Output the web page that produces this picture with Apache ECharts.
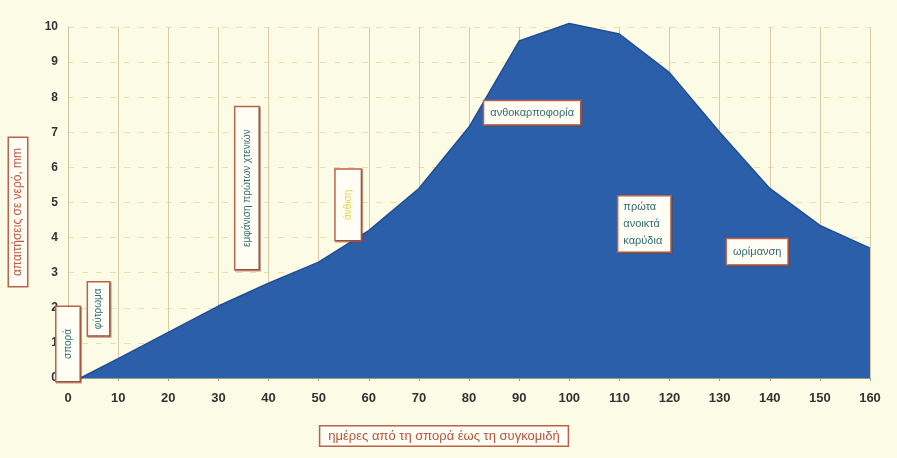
<!DOCTYPE html>
<html>
<head>
<meta charset="utf-8">
<script src="https://cdn.jsdelivr.net/npm/echarts@6/dist/echarts.min.js"></script>
<style>
  html, body { margin: 0; padding: 0; background: #fcfbe6; }
  #chart { width: 897px; height: 458px; }
</style>
</head>
<body>
<div id="chart"></div>
<script>
// Days after sowing and daily water need
const days = [2.5, 10, 20, 30, 40, 50, 60, 70, 80, 90, 100, 110, 120, 130, 140, 150, 160];
const waterNeed = [0, 0.55, 1.3, 2.05, 2.7, 3.3, 4.2, 5.4, 7.15, 9.6, 10.1, 9.8, 8.7, 7.0, 5.4, 4.35, 3.7];

// Growth stage notes: position in chart coordinates
const stageNames = ['σπορά', 'φύτρωμα', 'εμφάνιση πρώτων χτενιών', 'άνθιση',
  'ανθοκαρποφορία', 'πρώτα\nανοικτά\nκαρύδια', 'ωρίμανση'];
const stageX = [0, 6.1, 35.7, 55.9, 92.6, 109.8, 137.5];
const stageY = [0.97, 1.97, 5.41, 4.93, 7.56, 4.39, 3.6];
const stageVertical = [true, true, true, true, false, false, false];

const xTitle = 'ημέρες από τη σπορά έως τη συγκομιδή';
const yTitle = 'απαιτήσεις σε νερό, mm';

const boxBorder = '#b9624a';
const noteText = '#2f6d74';
const fontFam = '"Liberation Sans", Arial, sans-serif';
const tickFont = '"Liberation Sans Narrow", "Liberation Sans", Arial, sans-serif';

const chart = echarts.init(document.getElementById('chart'));

const paddings = [
  [3, 22, 3, 22],
  [2, 6, 2, 6],
  [3, 22, 3, 22],
  [4, 20, 4, 20],
  [3, 6, 3, 6],
  [2, 8, 2, 5],
  [4, 6, 4, 6]
];

const notes = stageNames.map((name, i) => {
  const vert = stageVertical[i];
  return {
    coord: [stageX[i], stageY[i]],
    value: name,
    symbolSize: 0,
    label: {
      show: true,
      position: 'inside',
      formatter: name,
      rotate: vert ? 90 : 0,
      color: i === 3 ? '#e6d24c' : noteText,
      fontFamily: fontFam,
      fontSize: vert ? 10 : 11,
      lineHeight: 17,
      align: i === 5 ? 'left' : 'center',
      backgroundColor: '#fffdf4',
      borderColor: boxBorder,
      borderWidth: 1.5,
      padding: paddings[i],
      shadowColor: 'rgba(120,60,40,0.5)',
      shadowOffsetX: 1,
      shadowOffsetY: 1,
      shadowBlur: 0
    }
  };
});

chart.setOption({
  backgroundColor: '#fcfbe6',
  animation: false,
  grid: { left: 68, right: 27, top: 27, bottom: 80 },
  xAxis: {
    type: 'value',
    min: 0,
    max: 160,
    interval: 10,
    axisLine: { show: true, lineStyle: { color: '#9a9a8a', width: 1 } },
    axisTick: { show: true, length: 3, lineStyle: { color: '#9a9a8a' } },
    axisLabel: { color: '#333', fontFamily: tickFont, fontSize: 13, fontWeight: 'bold', margin: 14 },
    splitLine: { show: true, lineStyle: { color: '#dccaa6', width: 1 } }
  },
  yAxis: {
    type: 'value',
    min: 0,
    max: 10,
    interval: 1,
    axisLine: { show: true, lineStyle: { color: '#c9c3a0', width: 1 } },
    axisTick: { show: false },
    axisLabel: { color: '#333', fontFamily: tickFont, fontSize: 12, fontWeight: 'bold', margin: 10 },
    splitLine: { show: true, lineStyle: { color: '#ece2a0', width: 1, type: [6, 8] } }
  },
  series: [{
    type: 'line',
    data: days.map((d, i) => [d, waterNeed[i]]),
    symbol: 'none',
    clip: false,
    lineStyle: { color: '#1f4e96', width: 1.5 },
    areaStyle: { color: '#2c5fa9', opacity: 1 },
    markPoint: { symbol: 'circle', symbolSize: 0, data: notes, silent: true }
  }],
  graphic: [
    {
      type: 'text',
      x: 444, y: 436,
      style: {
        text: xTitle,
        fill: '#b5533a',
        font: '13px ' + fontFam,
        align: 'center',
        verticalAlign: 'middle',
        backgroundColor: '#fffdf4',
        borderColor: boxBorder,
        borderWidth: 1.5,
        padding: [3, 8, 3, 8]
      }
    },
    {
      type: 'text',
      x: 18, y: 212,
      rotation: Math.PI / 2,
      style: {
        text: yTitle,
        fill: '#c0583a',
        font: '12px ' + fontFam,
        align: 'center',
        verticalAlign: 'middle',
        backgroundColor: '#fffdf4',
        borderColor: boxBorder,
        borderWidth: 1.5,
        padding: [3, 10, 3, 10]
      }
    }
  ]
});
</script>
</body>
</html>
